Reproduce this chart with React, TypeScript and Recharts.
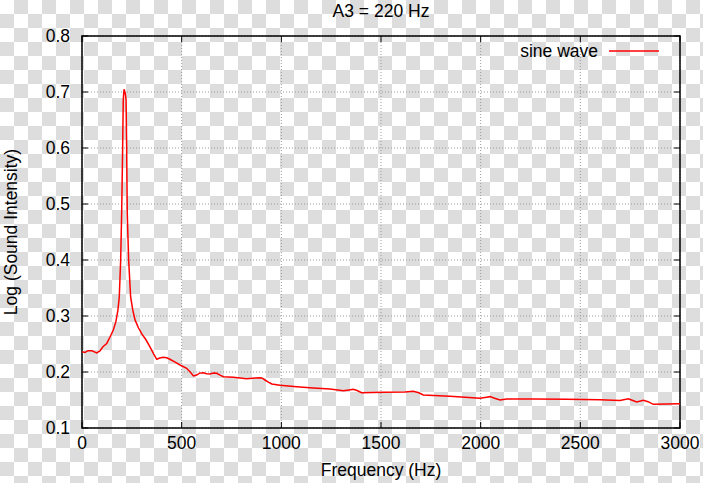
import {
  LineChart,
  Line,
  XAxis,
  YAxis,
  CartesianGrid,
  ReferenceArea,
  Legend,
} from "recharts";

const W = 703;
const H = 483;
const PLOT_LEFT = 82;
const PLOT_TOP = 36;
const PLOT_RIGHT = 680;
const PLOT_BOTTOM = 428;
const FONT = "'Liberation Sans', Arial, sans-serif";
const FS = 17.5;
const TICK_LEN = 6;

const frequency = [
  0, 15, 30, 50, 62, 74, 90, 105, 124, 140, 157, 170, 180, 187, 194, 199, 204,
  207, 211, 217, 221, 224, 227, 234, 244, 255, 266, 283, 300, 320, 341, 360,
  375, 390, 408, 425, 441, 465, 492, 525, 545, 559, 575, 590, 609, 625, 642,
  660, 676, 695, 709, 759, 826, 870, 893, 905, 918, 935, 952, 993, 1077, 1160,
  1244, 1311, 1340, 1361, 1380, 1403, 1512, 1620, 1662, 1690, 1712, 1846, 1997,
  2030, 2047, 2070, 2097, 2131, 2264, 2432, 2599, 2699, 2741, 2760, 2783, 2816,
  2840, 2866, 3000,
];

const intensity = [
  0.236, 0.235, 0.238, 0.238, 0.236, 0.234, 0.2375, 0.245, 0.251, 0.262, 0.275,
  0.29, 0.31, 0.334, 0.4, 0.484, 0.602, 0.686, 0.705, 0.698, 0.686, 0.602,
  0.484, 0.4, 0.334, 0.31, 0.293, 0.279, 0.268, 0.258, 0.245, 0.232, 0.2227,
  0.225, 0.2262, 0.2255, 0.2227, 0.218, 0.2125, 0.2066, 0.199, 0.193, 0.1946,
  0.198, 0.1988, 0.197, 0.1964, 0.198, 0.1977, 0.194, 0.1917, 0.1905, 0.188,
  0.1895, 0.1898, 0.189, 0.1857, 0.182, 0.1786, 0.1762, 0.1738, 0.1714, 0.1696,
  0.1666, 0.168, 0.169, 0.167, 0.163, 0.1637, 0.1645, 0.1655, 0.163, 0.159,
  0.1566, 0.153, 0.155, 0.156, 0.153, 0.15, 0.1518, 0.1518, 0.1512, 0.1505,
  0.149, 0.152, 0.1495, 0.1464, 0.1494, 0.147, 0.1423, 0.1434,
];

const xTicks = [0, 500, 1000, 1500, 2000, 2500, 3000];
const yTicks = [0.1, 0.2, 0.3, 0.4, 0.5, 0.6, 0.7, 0.8];

const data = frequency.map((f, i) => ({ f, v: intensity[i] }));

// gnuplot style: tick marks point inward, mirrored on the top edge
const XTick = ({ x, y, payload }: { x: number; y: number; payload: { value: number } }) => (
  <g>
    <line x1={x} y1={y} x2={x} y2={y - TICK_LEN} stroke="#000" strokeWidth={1} />
    <line x1={x} y1={PLOT_TOP} x2={x} y2={PLOT_TOP + TICK_LEN} stroke="#000" strokeWidth={1} />
    <text x={x} y={y + 21} textAnchor="middle" fill="#000" fontSize={FS} fontFamily={FONT}>
      {payload.value}
    </text>
  </g>
);

const YTick = ({ x, y, payload }: { x: number; y: number; payload: { value: number } }) => (
  <g>
    <line x1={x} y1={y} x2={x + TICK_LEN} y2={y} stroke="#000" strokeWidth={1} />
    <line x1={PLOT_RIGHT} y1={y} x2={PLOT_RIGHT - TICK_LEN} y2={y} stroke="#000" strokeWidth={1} />
    <text x={x - 12} y={y + 6} textAnchor="end" fill="#000" fontSize={FS} fontFamily={FONT}>
      {payload.value.toFixed(1)}
    </text>
  </g>
);

const LegendBox = () => (
  <svg width={200} height={30}>
    <text x={118} y={22} textAnchor="end" fill="#000" fontSize={FS} fontFamily={FONT}>
      sine wave
    </text>
    <line x1={129} y1={16} x2={179} y2={16} stroke="#ff0000" strokeWidth={1.5} />
  </svg>
);

export default function App() {
  return (
    <div
      style={{
        position: "absolute",
        left: 0,
        top: 0,
        width: W,
        height: H,
        backgroundColor: "#fff",
        backgroundImage:
          "conic-gradient(#dddddd 25%, #ffffff 0 50%, #dddddd 0 75%, #ffffff 0)",
        backgroundSize: "28px 28px",
        fontFamily: FONT,
      }}
    >
      <div
        style={{
          position: "absolute",
          top: 0,
          left: PLOT_LEFT,
          width: PLOT_RIGHT - PLOT_LEFT,
          textAlign: "center",
          fontSize: FS,
          lineHeight: "22px",
          color: "#000",
        }}
      >
        A3 = 220 Hz
      </div>
      <LineChart
        width={W}
        height={H}
        data={data}
        margin={{ top: PLOT_TOP, right: W - PLOT_RIGHT, left: 0, bottom: 0 }}
      >
        <CartesianGrid stroke="#999" strokeDasharray="1 2" />
        <XAxis
          dataKey="f"
          type="number"
          domain={[0, 3000]}
          ticks={xTicks}
          height={H - PLOT_BOTTOM}
          tickSize={0}
          tickMargin={0}
          tickLine={false}
          axisLine={false}
          tick={XTick}
          label={({ viewBox }: any) => (
            <text
              x={viewBox.x + viewBox.width / 2}
              y={viewBox.y + 48}
              textAnchor="middle"
              fill="#000"
              fontSize={FS}
              fontFamily={FONT}
            >
              Frequency (Hz)
            </text>
          )}
        />
        <YAxis
          type="number"
          domain={[0.1, 0.8]}
          ticks={yTicks}
          width={PLOT_LEFT}
          tickSize={0}
          tickMargin={0}
          tickLine={false}
          axisLine={false}
          tick={YTick}
          label={({ viewBox }: any) => {
            const cy = viewBox.y + viewBox.height / 2;
            return (
              <text
                x={17}
                y={cy}
                transform={`rotate(-90 17 ${cy})`}
                textAnchor="middle"
                fill="#000"
                fontSize={FS}
                fontFamily={FONT}
              >
                Log (Sound Intensity)
              </text>
            );
          }}
        />
        <ReferenceArea
          x1={0}
          x2={3000}
          y1={0.1}
          y2={0.8}
          fill="none"
          stroke="#000"
          strokeWidth={1.5}
        />
        <Legend
          layout="horizontal"
          verticalAlign="middle"
          align="center"
          content={LegendBox}
          wrapperStyle={{ position: "absolute", left: 480, top: 35, width: 200, height: 30 }}
        />
        <Line
          type="linear"
          dataKey="v"
          stroke="#ff0000"
          strokeWidth={1.5}
          dot={false}
          isAnimationActive={false}
        />
      </LineChart>
    </div>
  );
}
